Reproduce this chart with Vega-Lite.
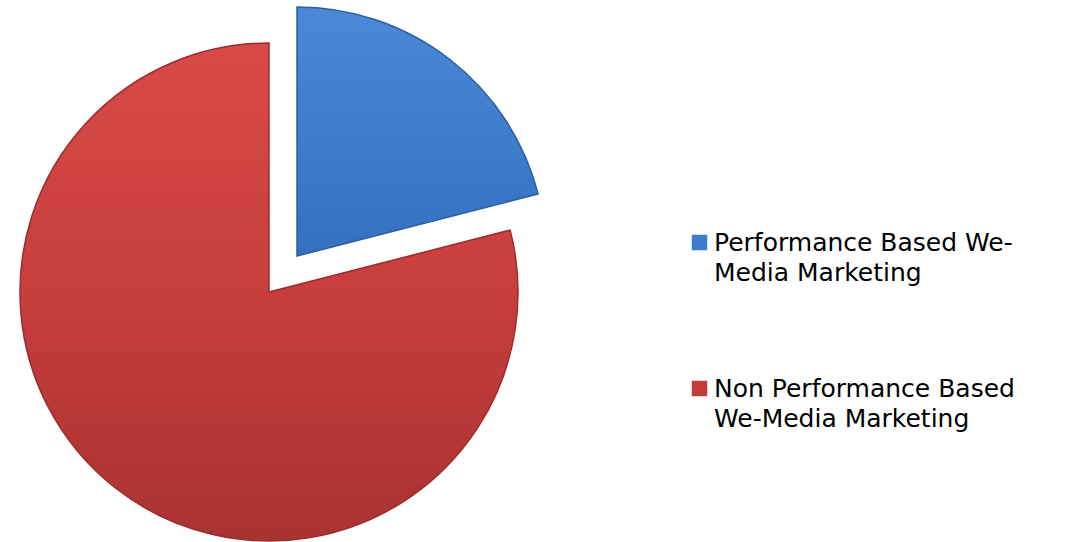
{
  "$schema": "https://vega.github.io/schema/vega-lite/v6.json",
  "width": 538,
  "height": 484,
  "autosize": {"type": "none"},
  "padding": {"left": 0, "top": 50, "right": 530, "bottom": 8},
  "background": "white",
  "config": {"view": {"stroke": null}},
  "data": {
    "values": [
      {"category": "Performance Based We-Media Marketing", "share": 21},
      {"category": "Non Performance Based We-Media Marketing", "share": 79}
    ]
  },
  "transform": [
    {"stack": "share", "groupby": [], "sort": [{"field": "share", "order": "ascending"}], "as": ["s0", "s1"]}
  ],
  "encoding": {
    "theta": {"field": "s0", "type": "quantitative", "scale": {"domain": [0, 100]}, "stack": null},
    "theta2": {"field": "s1"}
  },
  "layer": [
    {
      "transform": [{"filter": "datum.category == 'Non Performance Based We-Media Marketing'"}],
      "mark": {"type": "arc", "outerRadius": 249},
      "encoding": {
        "color": {
          "field": "category",
          "type": "nominal",
          "scale": {
            "domain": ["Performance Based We-Media Marketing", "Non Performance Based We-Media Marketing"],
            "range": ["#3f7bcb", "#c33b3a"]
          },
          "legend": {
            "title": null,
            "orient": "none",
            "legendX": 687,
            "legendY": 180,
            "padding": 0,
            "symbolType": "square",
            "symbolSize": 240,
            "symbolStrokeWidth": 0,
            "labelFont": "DejaVu Sans",
            "labelFontSize": 25,
            "labelColor": "#000000",
            "labelLimit": 500,
            "labelOffset": 2,
            "labelBaseline": "middle",
            "rowPadding": 90,
            "labelExpr": "datum.label == 'Performance Based We-Media Marketing' ? ['Performance Based We-', 'Media Marketing'] : ['Non Performance Based', 'We-Media Marketing']",
            "encode": {"labels": {"update": {"lineHeight": {"value": 30}}}}
          }
        }
      }
    },
    {
      "transform": [{"filter": "datum.category == 'Performance Based We-Media Marketing'"}],
      "mark": {"type": "arc", "outerRadius": 249, "xOffset": 28, "yOffset": -36},
      "encoding": {
        "color": {"field": "category", "type": "nominal"}
      }
    },
    {
      "transform": [{"filter": "datum.category == 'Non Performance Based We-Media Marketing'"}],
      "mark": {
        "type": "arc",
        "outerRadius": 249,
        "stroke": "#9a2e2c",
        "strokeWidth": 1.5,
        "fill": {
          "gradient": "linear", "x1": 0, "y1": 0, "x2": 0, "y2": 1,
          "stops": [
            {"offset": 0, "color": "#d84a47"},
            {"offset": 0.5, "color": "#c73e3c"},
            {"offset": 1, "color": "#a93331"}
          ]
        }
      }
    },
    {
      "transform": [{"filter": "datum.category == 'Performance Based We-Media Marketing'"}],
      "mark": {
        "type": "arc",
        "outerRadius": 249,
        "xOffset": 28,
        "yOffset": -36,
        "stroke": "#2d5f9f",
        "strokeWidth": 1.5,
        "fill": {
          "gradient": "linear", "x1": 0, "y1": 0, "x2": 0, "y2": 1,
          "stops": [
            {"offset": 0, "color": "#4a89d8"},
            {"offset": 1, "color": "#3570c0"}
          ]
        }
      }
    }
  ]
}
